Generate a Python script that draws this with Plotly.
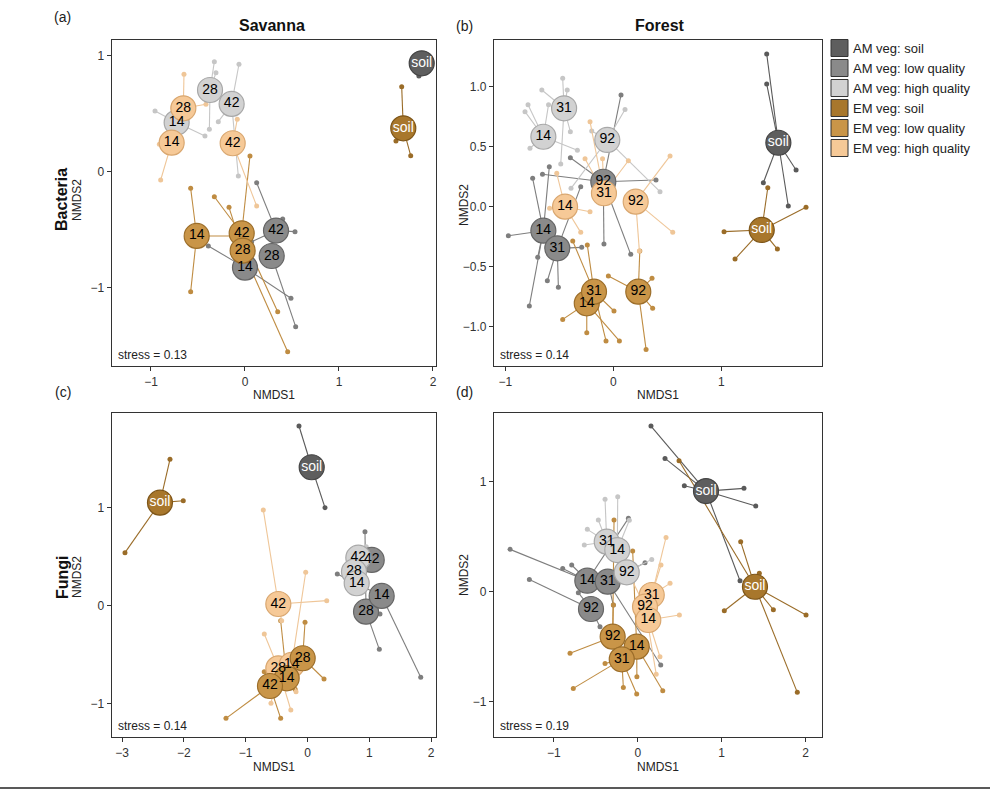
import plotly.graph_objects as go

# groups: 0 AM soil, 1 AM low, 2 AM high, 3 EM soil, 4 EM low, 5 EM high
group_names = ["AM veg: soil", "AM veg: low quality", "AM veg: high quality",
               "EM veg: soil", "EM veg: low quality", "EM veg: high quality"]
fill_colors = ["#5e5e5e", "#8a8a8a", "#d2d2d2", "#a8772c", "#c99548", "#f6c997"]
edge_colors = ["#444444", "#666666", "#a8a8a8", "#7d5518", "#9c6e2a", "#d9a770"]
line_colors = ["#5a5a5a", "#7e7e7e", "#c6c6c6", "#9a6c28", "#bf8c42", "#efc698"]
text_colors = ["white", "black", "black", "white", "black", "black"]

# ---------------- Panel (a): Bacteria, Savanna ----------------
a_group = [0, 3, 2, 2, 2, 5, 5, 5, 4, 4, 4, 1, 1, 1]
a_label = ["soil", "soil", "28", "42", "14", "28", "14", "42", "14", "42", "28", "42", "28", "14"]
a_cx = [1.88, 1.684, -0.372, -0.142, -0.727, -0.656, -0.78, -0.131, -0.514, -0.035, -0.025, 0.33, 0.284, 0.0]
a_cy = [0.934, 0.374, 0.704, 0.584, 0.423, 0.546, 0.25, 0.245, -0.554, -0.531, -0.681, -0.508, -0.727, -0.827]
a_sx = [[1.85, 1.92], [1.667, 1.606, 1.763], [-0.326, -0.309, -0.379], [-0.064, -0.284, -0.071],
        [-0.957, -0.426], [-0.649, -0.415], [-0.897, -0.911], [0.124, -0.082],
        [-0.578, -0.578, -0.142], [0.053, -0.326, 0.348], [-0.17, 0.454],
        [0.124, 0.401, 0.532, 0.071], [0.539], [-0.39, 0.489]]
a_sy = [[0.825, 0.98], [0.733, 0.265, 0.138], [0.948, 0.853, 0.365], [0.926, 0.431, -0.037],
        [0.523, 0.308], [0.839, 0.581], [-0.072, 0.236], [-0.296, 0.451],
        [-0.143, -1.034, -0.554], [0.135, -0.216, -1.207], [-0.307, -1.552],
        [-0.095, -0.408, -0.517, -0.603], [-1.336], [-0.64, -1.091]]

# ---------------- Panel (b): Bacteria, Forest ----------------
b_group = [0, 3, 2, 2, 2, 1, 1, 1, 5, 5, 5, 4, 4, 4]
b_label = ["soil", "soil", "14", "31", "92", "14", "31", "92", "14", "92", "31", "92", "14", "31"]
b_cx = [1.528, 1.374, -0.648, -0.456, -0.056, -0.648, -0.519, -0.093, -0.447, 0.207, -0.087, 0.231, -0.246, -0.179]
b_cy = [0.533, -0.194, 0.583, 0.82, 0.556, -0.2, -0.347, 0.208, 0.0, 0.042, 0.112, -0.708, -0.805, -0.708]
b_sx = [[1.42, 1.42, 1.692, 1.62, 1.389],
        [1.43, 1.784, 1.025, 1.127, 1.519],
        [-0.818, -0.79, -0.772, -0.333, -0.6],
        [-0.469, -0.662, -0.427, -0.398, -0.487],
        [0.108, 0.432, -0.392, -0.2],
        [-0.593, -0.747, -0.972, -0.7, -0.778],
        [-0.611, -0.509, -0.293, -0.302],
        [0.071, -0.398, 0.395, -0.087, 0.161, -0.656],
        [-0.524, -0.59, -0.302, -0.216],
        [0.525, 0.55, 0.241],
        [-0.262, -0.1, -0.216, 0.139],
        [-0.046, 0.358, 0.364, 0.303, 0.245],
        [-0.469, -0.246, 0.056],
        [-0.376, -0.241, 0.006, -0.068]]
b_sy = [[1.273, 1.023, 0.306, 0.006, 0.2],
        [0.158, -0.005, -0.208, -0.436, -0.353],
        [0.792, 0.85, 0.487, 0.47, 0.85],
        [1.07, 0.972, 0.972, 0.625, 0.356],
        [0.81, 0.125, 0.153, 0.63],
        [0.333, 0.236, -0.242, -0.422, -0.828],
        [-0.617, -0.672, -0.339, 0.167],
        [0.931, 0.408, 0.222, -0.311, -0.397, 0.27],
        [0.278, -0.014, -0.214, -0.042],
        [0.423, -0.214, -0.369],
        [0.4, 0.4, 0.708, 0.383],
        [-0.578, -0.597, -0.847, -1.189, -0.369],
        [-0.939, -1.05, -1.119],
        [-0.286, -0.319, -0.869, -1.119]]

# ---------------- Panel (c): Fungi, Savanna ----------------
c_group = [0, 3, 2, 2, 2, 1, 1, 1, 5, 5, 5, 4, 4, 4]
c_label = ["soil", "soil", "42", "28", "14", "28", "14", "42", "42", "28", "14", "28", "14", "42"]
c_cx = [0.068, -2.387, 0.822, 0.752, 0.796, 0.947, 1.2, 1.039, -0.472, -0.472, -0.256, -0.078, -0.337, -0.607]
c_cy = [1.408, 1.048, 0.488, 0.346, 0.228, -0.061, 0.099, 0.465, 0.017, -0.637, -0.603, -0.535, -0.739, -0.817]
c_sx = [[-0.138, 0.283], [-2.225, -2.01, -2.953], [0.95], [0.7], [0.9],
        [0.93, 1.162, 1.173], [0.482, 1.832], [1.1],
        [-0.715, 0.311, -0.418], [-0.699, -0.591, -0.27], [-0.029, -0.186],
        [-0.04, 0.267], [-0.434, -0.2], [-1.319, -0.434, -0.7]]
c_sy = [[1.828, 0.997], [1.489, 1.068, 0.539], [0.6], [0.4], [0.15],
        [0.753, -0.444, -0.084], [0.322, -0.729], [0.55],
        [0.974, 0.051, -0.153], [-0.288, -0.993, -1.061], [0.34, -0.875],
        [-0.169, -0.746], [-0.153, -0.85], [-1.146, -1.146, -0.671]]

# ---------------- Panel (d): Fungi, Forest ----------------
d_group = [0, 3, 2, 2, 2, 1, 1, 1, 5, 5, 5, 4, 4, 4]
d_label = ["soil", "soil", "31", "14", "92", "14", "31", "92", "31", "92", "14", "92", "14", "31"]
d_cx = [0.813, 1.396, -0.369, -0.243, -0.131, -0.6, -0.357, -0.556, 0.167, 0.087, 0.126, -0.298, -0.012, -0.19]
d_cy = [0.915, 0.045, 0.455, 0.379, 0.176, 0.1, 0.091, -0.157, -0.03, -0.136, -0.257, -0.409, -0.5, -0.615]
d_sx = [[0.158, 0.325, 0.555, 1.265, 1.405, 1.218],
        [0.492, 1.226, 1.448, 1.031, 1.615, 2.004, 1.9],
        [-0.389, -0.469, -0.6, -0.636],
        [-0.238, -0.1],
        [0.167],
        [-1.52, -0.893, -0.786, -0.111],
        [0.087, -0.29, 0.274],
        [-1.29, -0.707, -0.449],
        [0.337, 0.277, 0.385],
        [-0.071, 0.22],
        [0.496, 0.265],
        [-0.282, -0.806, -0.29],
        [-0.06, 0.298, -0.01],
        [-0.767, -0.389, -0.171, -0.012]]
d_sy = [[1.506, 1.212, 0.964, 0.94, 0.779, 0.1],
        [1.191, 0.455, 0.167, -0.173, -0.164, -0.212, -0.915],
        [0.84, 0.652, 0.567, 0.425],
        [0.864, 0.65],
        [0.294],
        [0.385, 0.212, 0.243, 0.667],
        [0.264, -0.121, -0.667],
        [0.112, -0.009, -0.318],
        [0.494, 0.243, 0.076],
        [0.112, -0.75],
        [-0.212, -0.591],
        [0.652, -0.56, -0.12],
        [0.37, -0.9, -0.773],
        [-0.879, -0.652, -0.87, -0.93]]

stress_vals = ["0.13", "0.14", "0.14", "0.19"]

W, H = 996, 791


def px(v):
    return v / W


def py(v):
    return 1 - v / H


panels = [
    dict(g=a_group, l=a_label, cx=a_cx, cy=a_cy, sx=a_sx, sy=a_sy, xa="x", ya="y",
         box=(111.7, 436, 40, 366), xr=[-1.418, 2.032], yr=[-1.675, 1.135],
         xt=[-1, 0, 1, 2], yt=[-1, 0, 1], ytxt=None),
    dict(g=b_group, l=b_label, cx=b_cx, cy=b_cy, sx=b_sx, sy=b_sy, xa="x2", ya="y2",
         box=(494, 822, 40, 366), xr=[-1.105, 1.932], yr=[-1.3275, 1.389],
         xt=[-1, 0, 1], yt=[-1, -0.5, 0, 0.5, 1], ytxt=["−1.0", "−0.5", "0.0", "0.5", "1.0"]),
    dict(g=c_group, l=c_label, cx=c_cx, cy=c_cy, sx=c_sx, sy=c_sy, xa="x3", ya="y3",
         box=(111.7, 436, 413, 737), xr=[-3.168, 2.079], yr=[-1.336, 1.96],
         xt=[-3, -2, -1, 0, 1, 2], yt=[-1, 0, 1], ytxt=None),
    dict(g=d_group, l=d_label, cx=d_cx, cy=d_cy, sx=d_sx, sy=d_sy, xa="x4", ya="y4",
         box=(494, 822, 413, 737), xr=[-1.711, 2.194], yr=[-1.321, 1.625],
         xt=[-1, 0, 1, 2], yt=[-1, 0, 1], ytxt=None),
]

fig = go.Figure()
draw_order = [1, 2, 5, 4, 0, 3]

for p in panels:
    # spider lines
    for gi in range(6):
        lx, ly, dx, dy = [], [], [], []
        for k, g in enumerate(p["g"]):
            if g != gi:
                continue
            for sx, sy in zip(p["sx"][k], p["sy"][k]):
                lx += [p["cx"][k], sx, None]
                ly += [p["cy"][k], sy, None]
                dx.append(sx)
                dy.append(sy)
        if lx:
            fig.add_trace(go.Scatter(x=lx, y=ly, mode="lines", xaxis=p["xa"], yaxis=p["ya"],
                                     line=dict(color=line_colors[gi], width=1.1),
                                     hoverinfo="skip", showlegend=False))
            fig.add_trace(go.Scatter(x=dx, y=dy, mode="markers", xaxis=p["xa"], yaxis=p["ya"],
                                     marker=dict(color=line_colors[gi], size=5),
                                     hoverinfo="skip", showlegend=False))
    # centroid circles
    for gi in draw_order:
        idx = [k for k, g in enumerate(p["g"]) if g == gi]
        if not idx:
            continue
        fig.add_trace(go.Scatter(
            x=[p["cx"][k] for k in idx], y=[p["cy"][k] for k in idx],
            mode="markers", xaxis=p["xa"], yaxis=p["ya"],
            marker=dict(size=25, color=fill_colors[gi], line=dict(color=edge_colors[gi], width=1.2)),
            name=group_names[gi], showlegend=False, cliponaxis=False))
    # centroid labels (drawn above all circles)
    for gi in draw_order:
        idx = [k for k, g in enumerate(p["g"]) if g == gi]
        if not idx:
            continue
        fig.add_trace(go.Scatter(
            x=[p["cx"][k] for k in idx], y=[p["cy"][k] for k in idx],
            text=[p["l"][k] for k in idx], mode="text",
            textposition="middle center", xaxis=p["xa"], yaxis=p["ya"],
            textfont=dict(family="Liberation Sans, Arial", size=14, color=text_colors[gi]),
            hoverinfo="skip", showlegend=False, cliponaxis=False))

layout = dict(width=W, height=H, margin=dict(l=0, r=0, t=0, b=0),
              paper_bgcolor="white", plot_bgcolor="white",
              font=dict(family="Liberation Sans, Arial", color="#222222"))

tickfont = dict(family="Liberation Sans, Arial", size=12, color="#333333")
for i, p in enumerate(panels):
    sfx = "" if i == 0 else str(i + 1)
    x0, x1, y0, y1 = p["box"]
    layout["xaxis" + sfx] = dict(domain=[px(x0), px(x1)], range=p["xr"], anchor="y" + sfx,
                                 tickvals=p["xt"], ticks="outside", ticklen=4, tickcolor="#333333",
                                 showgrid=False, zeroline=False, showline=True, mirror=True,
                                 linecolor="#333333", linewidth=1.2, tickfont=tickfont)
    yax = dict(domain=[py(y1), py(y0)], range=p["yr"], anchor="x" + sfx,
               tickvals=p["yt"], ticks="outside", ticklen=4, tickcolor="#333333",
               showgrid=False, zeroline=False, showline=True, mirror=True,
               linecolor="#333333", linewidth=1.2, tickfont=tickfont)
    if p["ytxt"]:
        yax["ticktext"] = p["ytxt"]
    layout["yaxis" + sfx] = yax

fig.update_layout(**layout)

ann = []


def add_text(x, y, t, size=12, bold=False, angle=0, xanchor="center", color="#222222"):
    ann.append(dict(x=px(x), y=py(y), xref="paper", yref="paper", text=("<b>%s</b>" % t) if bold else t,
                    showarrow=False, textangle=angle, xanchor=xanchor, yanchor="middle",
                    font=dict(family="Liberation Sans, Arial", size=size, color=color)))


add_text(63, 17, "(a)", 14)
add_text(272, 26, "Savanna", 16, bold=True, color="#111111")
add_text(464, 26, "(b)", 14)
add_text(660, 26, "Forest", 16, bold=True, color="#111111")
add_text(63, 392, "(c)", 14)
add_text(464, 392, "(d)", 14)
add_text(62, 200, "Bacteria", 16, bold=True, angle=-90, color="#111111")
add_text(62, 577, "Fungi", 16, bold=True, angle=-90, color="#111111")
add_text(77, 200, "NMDS2", 12, angle=-90)
add_text(77, 577, "NMDS2", 12, angle=-90)
add_text(464, 205, "NMDS2", 12, angle=-90)
add_text(464, 575, "NMDS2", 12, angle=-90)
add_text(274, 395, "NMDS1", 12)
add_text(658, 395, "NMDS1", 12)
add_text(274, 767, "NMDS1", 12)
add_text(658, 767, "NMDS1", 12)
for i, p in enumerate(panels):
    x0, x1, y0, y1 = p["box"]
    add_text(x0 + 4, y1 - 11, "stress = " + stress_vals[i], 12, xanchor="left")

shapes = []
for i, name in enumerate(group_names):
    yc = 48 + 20 * i
    shapes.append(dict(type="rect", xref="paper", yref="paper",
                       x0=px(831), x1=px(848), y0=py(yc + 8.5), y1=py(yc - 8.5),
                       fillcolor=fill_colors[i], line=dict(color="#333333", width=1)))
    add_text(851, yc, name, 13, xanchor="left")

shapes.append(dict(type="line", xref="paper", yref="paper", x0=0, x1=px(990),
                   y0=py(788), y1=py(788), line=dict(color="#222222", width=1.5)))

fig.update_layout(annotations=ann, shapes=shapes)
fig.write_html("out.html", config={"displayModeBar": False},
               post_script="document.body.style.margin='0';document.body.style.overflow='hidden';")
